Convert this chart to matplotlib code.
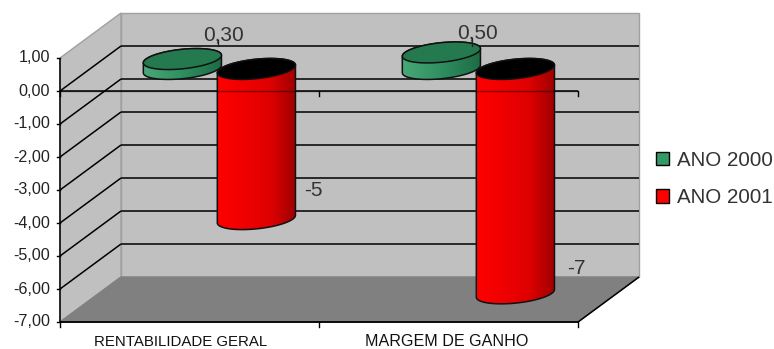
import numpy as np
import matplotlib
matplotlib.use('Agg')
import matplotlib.pyplot as plt
from matplotlib.colors import LinearSegmentedColormap
from matplotlib.patches import Patch, Polygon

plt.rcParams['font.family'] = ['Liberation Sans', 'DejaVu Sans']

categories = ['RENTABILIDADE GERAL', 'MARGEM DE GANHO']
series_names = ['ANO 2000', 'ANO 2001']
values_2000 = [0.30, 0.50]
values_2001 = [-4.55, -6.8]
y_ticks = [1, 0, -1, -2, -3, -4, -5, -6, -7]

W, H = 774, 349
x_unit = 259.0  # pixels per category
y_unit = 33.0   # pixels per value unit
x0, y0 = 60.0, 91.0  # where category 0 and value 0 sit at the front
depth_x, depth_y = 61.0, 45.0  # pixel shift from front to back wall

fig = plt.figure(figsize=(W / 100, H / 100), dpi=100)
ax = fig.add_axes([0, 0, 1, 1])
xlim = (-x0 / x_unit, (W - x0) / x_unit)
ylim = ((y0 - H) / y_unit, y0 / y_unit)
ax.axis('off')


def project(c, v, d=0.0):
    # category, value, depth (0 front, 1 back) to data coordinates
    return c + d * depth_x / x_unit, v + d * depth_y / y_unit


def px(x, y):
    return (x - x0) / x_unit, (y0 - y) / y_unit


def wall(points, color, z, edge='#a0a0a0'):
    ax.add_patch(Polygon([project(*p) for p in points], closed=True, facecolor=color,
                         edgecolor=edge, linewidth=1.0, zorder=z))


def line3d(a, b, z=3, lw=1.1, color='black', alpha=1.0):
    xa, ya = project(*a)
    xb, yb = project(*b)
    ax.plot([xa, xb], [ya, yb], color=color, lw=lw, alpha=alpha, zorder=z,
            solid_capstyle='butt')


# back wall, side wall and floor
wall([(0, -7, 1), (2, -7, 1), (2, 1, 1), (0, 1, 1)], '#c0c0c0', 1)
wall([(0, -7, 0), (0, -7, 1), (0, 1, 1), (0, 1, 0)], '#c0c0c0', 1)
wall([(0, -7, 0), (0, -7, 1), (2, -7, 1), (2, -7, 0)], '#808080', 2, edge='#808080')

# gridlines run along the side wall and across the back wall
for v in y_ticks[1:-1]:
    line3d((0, v, 0), (0, v, 1))
    line3d((0, v, 1), (2, v, 1))

# front axes
line3d((0, -7, 0), (0, 1, 0), z=3)
line3d((0, -7, 0), (2, -7, 0), z=3, lw=1.3)
line3d((2, -7, 0), (2, -7, 1), z=3)
line3d((0, 0, 0), (2, 0, 0), z=3)
for v in y_ticks:
    xt, yt = project(0, v)
    ax.plot([xt - 3 / x_unit, xt], [yt, yt], color='black', lw=1.0, zorder=3)
    label = f'{v:.2f}'.replace('.', ',')
    ax.text(xt - 10 / x_unit, yt, label, ha='right', va='center', fontsize=11.6,
            color='#222222', zorder=6)
for c in range(3):
    ax.plot([c, c], [-7, -7 - 5 / y_unit], color='black', lw=1.0, zorder=3)
    ax.plot([c, c], [0, -5 / y_unit], color='black', lw=1.0, zorder=3)

green_side = LinearSegmentedColormap.from_list('gs', ['#48a877', '#2f8f60', '#1d6b44'])
red_side = LinearSegmentedColormap.from_list('rs', ['#ff0000', '#f00000', '#e00000', '#a00000'])


def cylinder(c, v, side_cmap, cap_color, z):
    d = 0.49
    a = 36.4 / x_unit
    b = 0.233
    t = np.linspace(0, 2 * np.pi, 121)
    shear = b * depth_x / x_unit
    t0 = np.arctan2(shear, a)

    def ring(level, angle):
        cx, cy = project(c, level, d + b * np.sin(angle))
        return cx + a * np.cos(angle), cy

    low, high = min(v, 0), max(v, 0)
    front = np.linspace(t0 + np.pi, t0 + 2 * np.pi, 80)
    back = np.linspace(t0, t0 + np.pi, 80)
    xl, yl = ring(low, front)
    xh, yh = ring(high, back)
    outline = np.column_stack([np.r_[xl, xh], np.r_[yl, yh]])

    body = Polygon(outline, closed=True, facecolor='none', edgecolor='#111111',
                   linewidth=1.1, zorder=z + 0.2)
    ax.add_patch(body)
    grad = ax.imshow(np.linspace(0, 1, 64).reshape(1, -1), cmap=side_cmap, aspect='auto',
                     extent=(outline[:, 0].min(), outline[:, 0].max(),
                             outline[:, 1].min(), outline[:, 1].max()),
                     zorder=z, interpolation='bilinear')
    grad.set_clip_path(body)
    xc, yc = ring(high, t)
    ax.fill(xc, yc, facecolor=cap_color, edgecolor='#111111', linewidth=1.1, zorder=z + 0.3)


# each category holds two cylinders, the green one first so the red overlaps it
for i, (v_a, v_b) in enumerate(zip(values_2000, values_2001)):
    cylinder(i + 0.5 - 37 / x_unit, v_a, green_side, '#25794e', 4)
    cylinder(i + 0.5 + 37 / x_unit, v_b, red_side, 'black', 5)

# value axis shows faintly through the red cylinders
line3d((0, 0, 0), (2, 0, 0), z=5.5, lw=1.0, alpha=0.45)

# value labels and their short leaders
green_label_pos = [(224, 35), (477, 33)]
green_leader = [(218, 40, 46), (472, 38, 46)]
red_label_pos = [(313, 190), (576, 268)]
for v, pos, lead in zip(values_2000, green_label_pos, green_leader):
    ax.text(*px(*pos), f'{v:.2f}'.replace('.', ','), ha='center', va='center',
            fontsize=15, color='#333333', zorder=7)
    xa, ya = px(lead[0], lead[1])
    xb, yb = px(lead[0], lead[2])
    ax.plot([xa, xb], [ya, yb], color='#222222', lw=0.9, zorder=7)
for v, pos in zip(values_2001, red_label_pos):
    ax.text(*px(*pos), f'{v:.0f}', ha='center', va='center', fontsize=15,
            color='#333333', zorder=7)

category_label_pos = [(181, 342), (447, 342)]
category_label_size = [10.8, 11.6]
for name, pos, size in zip(categories, category_label_pos, category_label_size):
    ax.text(*px(*pos), name, ha='center', va='center', fontsize=size,
            color='#111111', zorder=7)

handles = [Patch(facecolor='#339966', edgecolor='black', linewidth=1.0),
           Patch(facecolor='#ff0000', edgecolor='black', linewidth=1.0)]
ax.legend(handles, series_names, loc='center left', bbox_to_anchor=(650 / W, 1 - 179 / H),
          frameon=False, fontsize=14.8, handlelength=0.62, handleheight=0.62, handletextpad=0.4,
          labelspacing=0.9, borderpad=0, borderaxespad=0.3, labelcolor='#333333')

ax.set_xlim(*xlim)
ax.set_ylim(*ylim)
fig.savefig('out.png', dpi=100)
